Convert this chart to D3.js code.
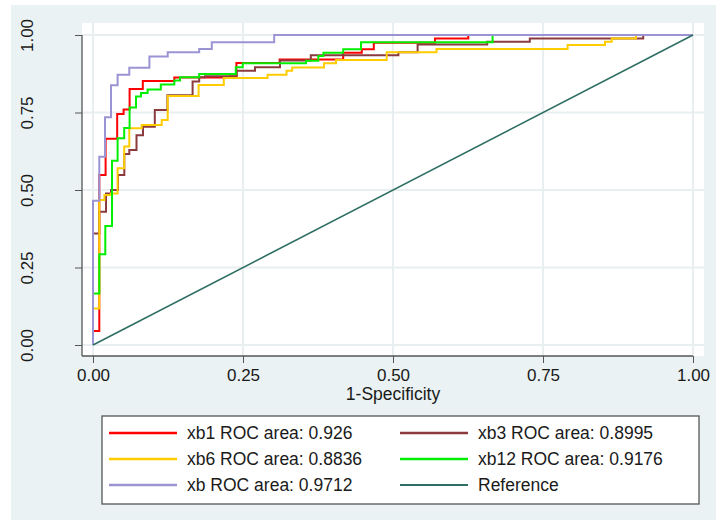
<!DOCTYPE html>
<html>
<head>
<meta charset="utf-8">
<script src="https://cdn.jsdelivr.net/npm/d3@7"></script>
<style>
    body { margin: 0; background: #ffffff; }
    text { font-family: "Liberation Sans", Arial, sans-serif; fill: #1a1a1a; }
</style>
</head>
<body>
<div id="graphContainer"></div>
<script>
"use strict";

// tick values on both axes
const axisTicks = [0, 0.25, 0.5, 0.75, 1];

// ROC corner points (1-specificity, sensitivity)
const xb1Fpr = [0, 0, 0.0105, 0.021, 0.0403, 0.051, 0.061, 0.083, 0.1355, 0.228, 0.239, 0.311, 0.417, 0.448, 0.468, 0.57, 0.6255, 1];
const xb1Tpr = [0, 0.045, 0.548, 0.665, 0.745, 0.76, 0.826, 0.852, 0.863, 0.866, 0.91, 0.921, 0.943, 0.954, 0.975, 0.989, 1, 1];

const xb3Fpr = [0, 0, 0.0105, 0.0217, 0.03, 0.0417, 0.0522, 0.0605, 0.0725, 0.0833, 0.103, 0.124, 0.166, 0.177, 0.1867, 0.2395, 0.27, 0.3117, 0.363, 0.509, 0.541, 0.657, 0.728, 0.917, 1];
const xb3Tpr = [0, 0.36, 0.43, 0.489, 0.5, 0.548, 0.616, 0.629, 0.677, 0.704, 0.758, 0.806, 0.85, 0.864, 0.867, 0.885, 0.896, 0.918, 0.935, 0.944, 0.969, 0.978, 0.989, 1, 1];

const xb6Fpr = [0, 0, 0.0105, 0.019, 0.03, 0.041, 0.052, 0.0605, 0.0812, 0.1145, 0.1245, 0.176, 0.218, 0.291, 0.3225, 0.332, 0.385, 0.405, 0.4895, 0.5725, 0.791, 0.8533, 0.8645, 0.905, 1];
const xb6Tpr = [0, 0.118, 0.468, 0.484, 0.489, 0.57, 0.64, 0.699, 0.71, 0.726, 0.803, 0.839, 0.861, 0.872, 0.885, 0.895, 0.909, 0.919, 0.944, 0.955, 0.968, 0.978, 0.989, 1, 1];

const xb12Fpr = [0, 0, 0.0105, 0.0205, 0.0317, 0.041, 0.052, 0.061, 0.0717, 0.08, 0.091, 0.113, 0.1355, 0.145, 0.177, 0.238, 0.2495, 0.355, 0.3755, 0.384, 0.417, 0.4467, 0.666, 1];
const xb12Tpr = [0, 0.166, 0.293, 0.384, 0.594, 0.667, 0.7, 0.766, 0.802, 0.813, 0.824, 0.84, 0.853, 0.8635, 0.874, 0.896, 0.909, 0.917, 0.932, 0.943, 0.954, 0.9765, 1, 1];

const xbFpr = [0, 0, 0.0105, 0.02, 0.03, 0.041, 0.0605, 0.094, 0.1245, 0.177, 0.198, 0.302, 1];
const xbTpr = [0, 0.465, 0.607, 0.735, 0.838, 0.872, 0.894, 0.931, 0.944, 0.955, 0.977, 1, 1];

const refFpr = [0, 1];
const refTpr = [0, 1];

const legendLabels = ["xb1 ROC area: 0.926", "xb3 ROC area: 0.8995", "xb6 ROC area: 0.8836",
    "xb12 ROC area: 0.9176", "xb ROC area: 0.9712", "Reference"];

(function () {
    const measurements = {
        width: 716,
        height: 520,
        plotLeft: 82,
        plotTop: 23,
        plotRight: 704,
        plotBottom: 356
    }

    const colors = {
        xb1: "#ff0000",
        xb3: "#8b3a3e",
        xb6: "#ffcc00",
        xb12: "#00ee00",
        xb: "#9a94d4",
        ref: "#2f6e63"
    }

    // curves in drawing order, legend follows the same order
    const series = [
        { key: "xb1", fpr: xb1Fpr, tpr: xb1Tpr, label: legendLabels[0] },
        { key: "xb3", fpr: xb3Fpr, tpr: xb3Tpr, label: legendLabels[1] },
        { key: "xb6", fpr: xb6Fpr, tpr: xb6Tpr, label: legendLabels[2] },
        { key: "xb12", fpr: xb12Fpr, tpr: xb12Tpr, label: legendLabels[3] },
        { key: "xb", fpr: xbFpr, tpr: xbTpr, label: legendLabels[4] },
        { key: "ref", fpr: refFpr, tpr: refTpr, label: legendLabels[5] }
    ]

    let svgContainer = d3.select('#graphContainer').append("svg")
        .attr('width', measurements.width)
        .attr('height', measurements.height)

    // graph region background
    svgContainer.append("rect")
        .attr("x", 11).attr("y", 5)
        .attr("width", measurements.width - 11)
        .attr("height", measurements.height - 5)
        .attr("fill", "#eaf2f3")

    svgContainer.append("rect")
        .attr("x", measurements.plotLeft).attr("y", measurements.plotTop)
        .attr("width", measurements.plotRight - measurements.plotLeft)
        .attr("height", measurements.plotBottom - measurements.plotTop)
        .attr("fill", "#ffffff")

    let scaleX = d3.scaleLinear()
        .domain([0, 1])
        .range([93, 693])
    let scaleY = d3.scaleLinear()
        .domain([0, 1])
        .range([345, 35])

    drawGrid(scaleX, scaleY)
    plotData(scaleX, scaleY)
    drawAxes(scaleX, scaleY)
    drawLegend()

    function drawGrid(scaleX, scaleY) {
        const grid = svgContainer.append("g")
        grid.selectAll(".vgrid")
            .data(axisTicks)
            .enter()
            .append("line")
            .attr("x1", d => scaleX(d)).attr("x2", d => scaleX(d))
            .attr("y1", measurements.plotTop).attr("y2", measurements.plotBottom)
            .attr("stroke", "#e9eff1")
            .attr("stroke-width", 2)
        grid.selectAll(".hgrid")
            .data(axisTicks)
            .enter()
            .append("line")
            .attr("y1", d => scaleY(d)).attr("y2", d => scaleY(d))
            .attr("x1", measurements.plotLeft).attr("x2", measurements.plotRight)
            .attr("stroke", "#e9eff1")
            .attr("stroke-width", 2)
    }

    function plotData(scaleX, scaleY) {
        const line = d3.line()
            .x(d => scaleX(d[0]))
            .y(d => scaleY(d[1]))

        series.forEach(s => {
            const points = s.fpr.map((f, i) => [f, s.tpr[i]])
            svgContainer.append("path")
                .datum(points)
                .attr("fill", "none")
                .attr("stroke", colors[s.key])
                .attr("stroke-width", s.key == "ref" ? 1.6 : 2)
                .attr("d", line.curve(s.key == "ref" ? d3.curveLinear : d3.curveStepAfter))
        })
    }

    function drawAxes(scaleX, scaleY) {
        let xAxis = d3.axisBottom()
            .scale(scaleX)
            .tickValues(axisTicks)
            .tickFormat(d3.format(".2f"))
            .tickSizeInner(7)
            .tickSizeOuter(0)
            .tickPadding(6)

        let yAxis = d3.axisLeft()
            .scale(scaleY)
            .tickValues(axisTicks)
            .tickFormat(d3.format(".2f"))
            .tickSizeInner(7)
            .tickSizeOuter(0)

        const gx = svgContainer.append('g')
            .attr('transform', 'translate(0,' + measurements.plotBottom + ')')
            .call(xAxis)
        gx.select(".domain").remove()
        gx.selectAll("text")
            .style("font-size", "17px")
            .attr("fill", "#1a1a1a")

        const gy = svgContainer.append('g')
            .attr('transform', 'translate(' + measurements.plotLeft + ', 0)')
            .call(yAxis)
        gy.select(".domain").remove()
        gy.selectAll("text")
            .style("font-size", "17px")
            .attr("fill", "#1a1a1a")
            .attr("x", 0).attr("dy", 0)
            .style("text-anchor", "middle")
            .attr("transform", "translate(-49,0) rotate(-90)")

        svgContainer.selectAll(".tick line").attr("stroke", "#555555")

        // axis lines meet at the plot corner
        svgContainer.append("line")
            .attr("x1", measurements.plotLeft).attr("x2", measurements.plotLeft)
            .attr("y1", scaleY(1)).attr("y2", measurements.plotBottom)
            .attr("stroke", "#555555").attr("stroke-width", 1.3)
        svgContainer.append("line")
            .attr("x1", measurements.plotLeft).attr("x2", scaleX(1))
            .attr("y1", measurements.plotBottom).attr("y2", measurements.plotBottom)
            .attr("stroke", "#555555").attr("stroke-width", 1.3)

        svgContainer.append("text")
            .attr("x", scaleX(0.5))
            .attr("y", 400)
            .style("text-anchor", "middle")
            .style("font-size", "17.5px")
            .text("1-Specificity")
    }

    function drawLegend() {
        svgContainer.append("rect")
            .attr("x", 102).attr("y", 416)
            .attr("width", 597).attr("height", 88)
            .attr("fill", "#ffffff")
            .attr("stroke", "#555555")
            .attr("stroke-width", 1.3)

        series.forEach((s, i) => {
            const col = i % 2
            const row = Math.floor(i / 2)
            const lx = col == 0 ? 109 : 400
            const ly = 433 + row * 26
            svgContainer.append("line")
                .attr("x1", lx).attr("x2", lx + 68)
                .attr("y1", ly).attr("y2", ly)
                .attr("stroke", colors[s.key])
                .attr("stroke-width", s.key == "ref" ? 1.8 : 2.5)
            svgContainer.append("text")
                .attr("x", lx + 78)
                .attr("y", ly + 6)
                .style("font-size", "17.5px")
                .text(s.label)
        })
    }
})()
</script>
</body>
</html>
